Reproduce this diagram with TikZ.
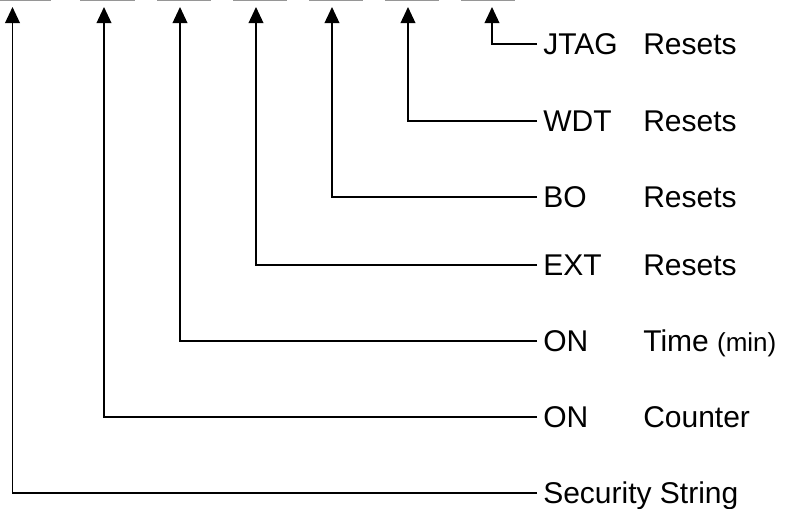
\documentclass[tikz,border=0pt]{standalone}
\usepackage{fontspec}
\setmainfont{Liberation Sans}
\usetikzlibrary{arrows.meta}
\newcommand{\twoword}[2]{\makebox[75pt][l]{#1}#2}

\begin{document}
\begin{tikzpicture}[x=0.75pt,y=0.75pt,yscale=-1,xscale=1,
  lbl/.style={anchor=west, inner xsep=4.5pt, inner ysep=0pt, text height=15.8pt, text depth=0pt, font=\fontsize{22.5}{27}\selectfont},
  feed/.style={line width=1.1pt, -{Triangle[length=12pt,width=11pt]}}]
\useasboundingbox (0,0) rectangle (785,508);

%Top bars (cut off)
\foreach \xa/\xb in {0/51,80/135,157/211,233/287,309/363,385/439,461/515}
  \draw [color={rgb, 255:red, 150; green, 150; blue, 150 }, line width=0.9] (\xa,0.6) -- (\xb,0.6);

%Arrow tips
\coordinate (tipSec) at (12.5,7);
\coordinate (tipCnt) at (104,7);
\coordinate (tipTime) at (180,7);
\coordinate (tipExt) at (256,7);
\coordinate (tipBo) at (332,7);
\coordinate (tipWdt) at (408,7);
\coordinate (tipJtag) at (492,7);

%Labels
\node [lbl] (jtag) at (537,44) {\twoword{JTAG}{Resets}};
\node [lbl] (wdt) at (537,121) {\twoword{WDT}{Resets}};
\node [lbl] (bo) at (537,197) {\twoword{BO}{Resets}};
\node [lbl] (ext) at (537,265) {\twoword{EXT}{Resets}};
\node [lbl] (time) at (537,341) {\twoword{ON}{Time {\fontsize{19.5}{22}\selectfont(min)}}};
\node [lbl] (cnt) at (537,417) {\twoword{ON}{Counter}};
\node [lbl] (sec) at (537,493) {Security String};

%Feed lines
\draw [feed] (jtag.west) -| (tipJtag);
\draw [feed] (wdt.west) -| (tipWdt);
\draw [feed] (bo.west) -| (tipBo);
\draw [feed] (ext.west) -| (tipExt);
\draw [feed] (time.west) -| (tipTime);
\draw [feed] (cnt.west) -| (tipCnt);
\draw [feed] (sec.west) -| (tipSec);

\end{tikzpicture}
\end{document}
